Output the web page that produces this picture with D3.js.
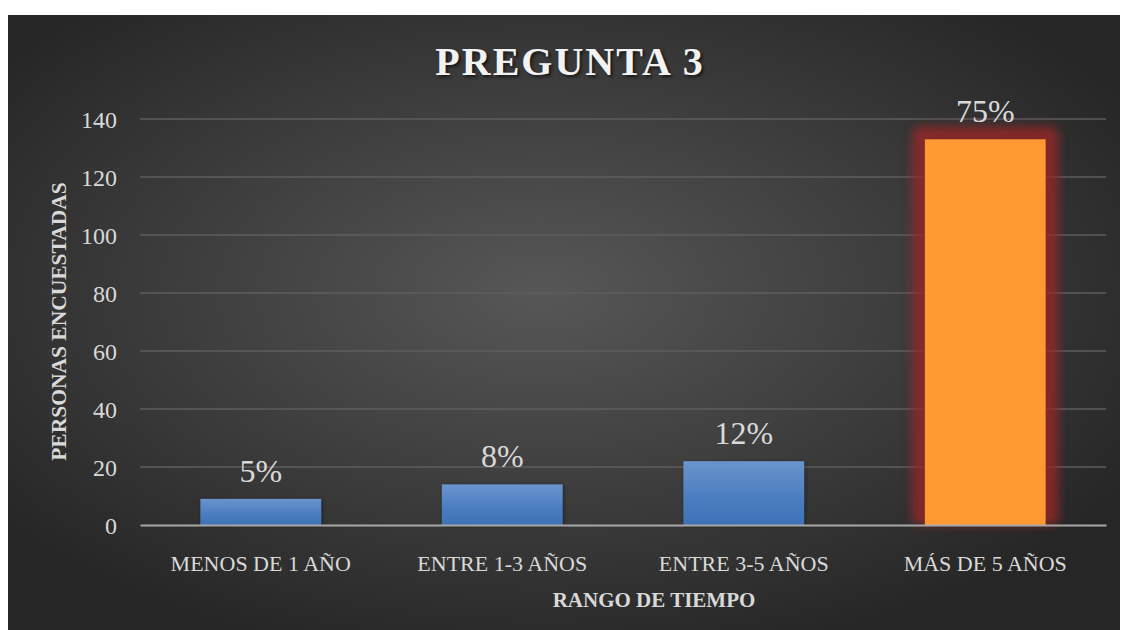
<!DOCTYPE html>
<html>
<head>
<meta charset="utf-8">
<script src="https://cdn.jsdelivr.net/npm/d3@7"></script>
<style>
  html, body { margin: 0; padding: 0; background: #fff; }
  svg { display: block; }
</style>
</head>
<body>
<div id="chart"></div>
<script>
const categories = ['MENOS DE 1 AÑO', 'ENTRE 1-3 AÑOS', 'ENTRE 3-5 AÑOS', 'MÁS DE 5 AÑOS'];
const values = [9, 14, 22, 133];
const percentLabels = ['5%', '8%', '12%', '75%'];
const yTicks = [0, 20, 40, 60, 80, 100, 120, 140];
const highlight = 3;

const W = 1123, H = 630;
const font = "'Liberation Serif', 'DejaVu Serif', serif";
const textColor = '#d9d9d9';

const svg = d3.select('#chart').append('svg')
  .attr('width', W).attr('height', H);

const defs = svg.append('defs');

const bg = defs.append('radialGradient').attr('id', 'bg')
  .attr('cx', '48%').attr('cy', '45%').attr('r', '62%');
bg.append('stop').attr('offset', '0%').attr('stop-color', '#575757');
bg.append('stop').attr('offset', '100%').attr('stop-color', '#262626');

const blue = defs.append('linearGradient').attr('id', 'blue')
  .attr('x1', 0).attr('y1', 0).attr('x2', 0).attr('y2', 1);
blue.append('stop').attr('offset', '0%').attr('stop-color', '#6a94cd');
blue.append('stop').attr('offset', '60%').attr('stop-color', '#4a7dc0');
blue.append('stop').attr('offset', '100%').attr('stop-color', '#3d71b6');

defs.append('filter').attr('id', 'blur')
  .attr('x', '-50%').attr('y', '-20%').attr('width', '200%').attr('height', '140%')
  .append('feGaussianBlur').attr('stdDeviation', 5);

const shadow = defs.append('filter').attr('id', 'shadow')
  .attr('x', '-20%').attr('y', '-20%').attr('width', '140%').attr('height', '140%');
shadow.append('feDropShadow').attr('dx', 1).attr('dy', 1).attr('stdDeviation', 2)
  .attr('flood-color', '#000').attr('flood-opacity', 0.45);

// background panel
svg.append('rect')
  .attr('x', 8).attr('y', 15).attr('width', 1112).attr('height', 615)
  .attr('fill', 'url(#bg)');

const margin = { left: 140, right: 17, top: 119, bottom: 105 };
const x = d3.scaleBand().domain(categories)
  .range([margin.left, W - margin.right]).paddingInner(0.5).paddingOuter(0.25);
const y = d3.scaleLinear().domain([0, 140]).range([H - margin.bottom, margin.top]);

// grid lines
svg.append('g').selectAll('line').data(yTicks.slice(1)).join('line')
  .attr('x1', margin.left).attr('x2', W - margin.right)
  .attr('y1', d => y(d)).attr('y2', d => y(d))
  .attr('stroke', '#5e5e5e').attr('stroke-width', 1.3);

// y tick labels
const yAxis = svg.append('g')
  .attr('transform', `translate(${margin.left},0)`)
  .call(d3.axisLeft(y).tickValues(yTicks).tickSize(0).tickPadding(23));
yAxis.select('.domain').remove();
yAxis.selectAll('text')
  .attr('fill', textColor).attr('font-family', font).attr('font-size', 24)
  .attr('dy', '0.34em');

// halo behind the highlighted bar
const hv = values[highlight], pad = 13;
svg.append('rect')
  .attr('x', x(categories[highlight]) - pad)
  .attr('y', y(hv) - pad)
  .attr('width', x.bandwidth() + pad * 2)
  .attr('height', y(0) - y(hv) + pad)
  .attr('rx', 8)
  .attr('fill', '#962828').attr('opacity', 0.8)
  .attr('filter', 'url(#blur)');

// bars
svg.append('g').selectAll('rect').data(values).join('rect')
  .attr('x', (d, i) => x(categories[i]))
  .attr('y', d => y(d))
  .attr('width', x.bandwidth())
  .attr('height', d => y(0) - y(d))
  .attr('fill', (d, i) => i === highlight ? '#ff9a33' : 'url(#blue)')
  .attr('filter', (d, i) => i === highlight ? null : 'url(#shadow)');

// baseline axis
const xAxis = svg.append('g')
  .attr('transform', `translate(0,${y(0)})`)
  .call(d3.axisBottom(x).tickSize(0).tickPadding(30));
xAxis.select('.domain').attr('stroke', '#a8a8a8').attr('stroke-width', 2.2);
xAxis.selectAll('text')
  .attr('fill', textColor).attr('font-family', font).attr('font-size', 22);

// data labels
svg.append('g').selectAll('text').data(values).join('text')
  .attr('x', (d, i) => x(categories[i]) + x.bandwidth() / 2)
  .attr('y', d => y(d) - 17)
  .attr('text-anchor', 'middle')
  .attr('fill', textColor).attr('font-family', font).attr('font-size', 32)
  .text((d, i) => percentLabels[i]);

// title
svg.append('text')
  .attr('x', 570).attr('y', 75)
  .attr('text-anchor', 'middle')
  .attr('fill', '#f2f2f2').attr('font-family', font).attr('font-weight', 'bold')
  .attr('font-size', 40).attr('letter-spacing', 2)
  .style('text-shadow', '2px 2px 3px rgba(0,0,0,0.6)')
  .text('PREGUNTA 3');

// axis titles
svg.append('text')
  .attr('transform', `translate(66,${(180 + 463) / 2}) rotate(-90)`)
  .attr('text-anchor', 'middle')
  .attr('fill', textColor).attr('font-family', font).attr('font-weight', 'bold')
  .attr('font-size', 21.5)
  .text('PERSONAS ENCUESTADAS');

svg.append('text')
  .attr('x', 654).attr('y', 607)
  .attr('text-anchor', 'middle')
  .attr('fill', textColor).attr('font-family', font).attr('font-weight', 'bold')
  .attr('font-size', 21)
  .text('RANGO DE TIEMPO');
</script>
</body>
</html>
